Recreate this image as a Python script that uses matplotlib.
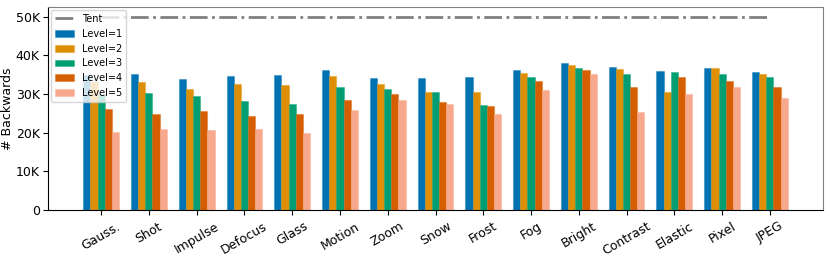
import matplotlib
matplotlib.use("Agg")
import matplotlib.pyplot as plt
import numpy as np
from matplotlib.ticker import FuncFormatter

categories = ['Gauss.', 'Shot', 'Impulse', 'Defocus', 'Glass', 'Motion', 'Zoom',
              'Snow', 'Frost', 'Fog', 'Bright', 'Contrast', 'Elastic', 'Pixel', 'JPEG']

level1 = [35.0, 35.1, 33.8, 34.7, 35.0, 36.2, 34.2, 34.1, 34.5, 36.3, 37.9, 36.9, 35.9, 36.8, 35.8]
level2 = [33.2, 33.1, 31.3, 32.6, 32.4, 34.6, 32.6, 30.4, 30.4, 35.4, 37.4, 36.5, 30.5, 36.6, 35.2]
level3 = [30.0, 30.2, 29.5, 28.2, 27.3, 31.9, 31.4, 30.6, 27.2, 34.3, 36.8, 35.2, 35.7, 35.1, 34.3]
level4 = [26.0, 24.9, 25.6, 24.2, 24.7, 28.5, 30.0, 27.9, 26.8, 33.4, 36.1, 31.8, 34.4, 33.3, 31.8]
level5 = [20.1, 21.0, 20.7, 20.9, 19.9, 25.9, 28.4, 27.3, 24.7, 31.1, 35.2, 25.4, 30.1, 31.8, 28.9]
tent = 50.0  # thousands

levels = [level1, level2, level3, level4, level5]
colors = ['#0173b2', '#de8f05', '#029e73', '#d55e00', '#f8a88d']

fig = plt.figure(figsize=(8.31, 2.59), dpi=100)
ax = fig.add_axes([48 / 831, 1 - 210 / 259, 775 / 831, 203 / 259])

x = np.arange(len(categories))
width = 0.15
ax.plot([x[0], x[-1]], [tent * 1000, tent * 1000], color='gray', linestyle='-.', linewidth=2, label='Tent')
for i, (vals, c) in enumerate(zip(levels, colors)):
    ax.bar(x + (i - 2) * width, np.array(vals) * 1000, width, color=c,
           edgecolor=(*matplotlib.colors.to_rgb(c), 0.35), linewidth=0.8,
           label='Level=%d' % (i + 1))

ax.set_ylim(0, 52500)
ax.set_xticks(x)
ax.set_xticklabels(categories, rotation=30, fontsize=9)
ax.yaxis.set_major_formatter(FuncFormatter(lambda v, p: '0' if v == 0 else '%dK' % (v / 1000)))
ax.tick_params(axis='y', labelsize=9, pad=2.5)
ax.set_ylabel('# Backwards', fontsize=9, labelpad=1)
for s in ['top', 'right']:
    ax.spines[s].set_color('gray')
ax.legend(loc='upper left', fontsize=7, handlelength=2.0, borderaxespad=0.3)

fig.savefig('out.png', dpi=100)
